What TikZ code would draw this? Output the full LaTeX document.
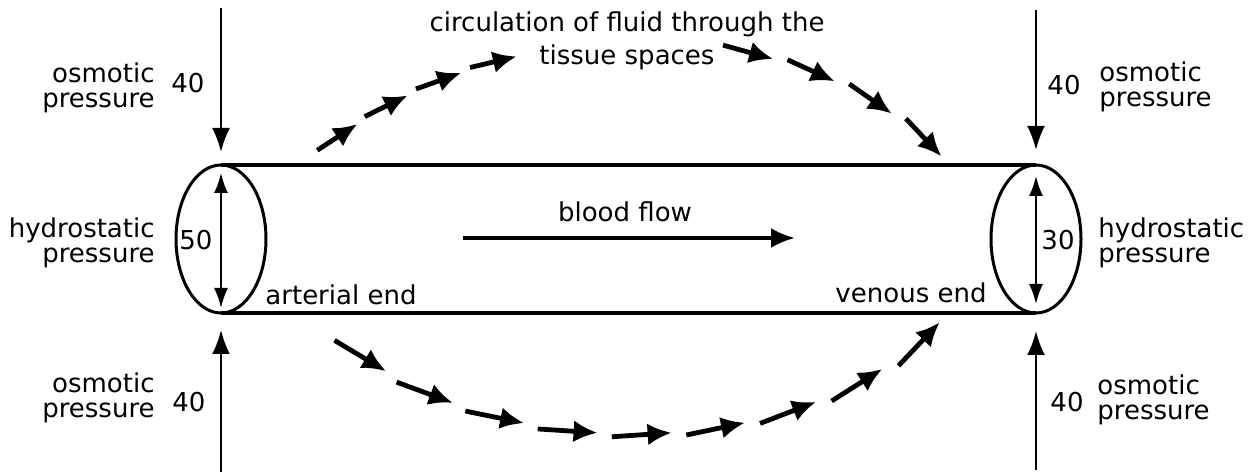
\documentclass[tikz,border=0pt]{standalone}
\usepackage{fontspec}
\setmainfont{DejaVu Sans}
\usepackage{tikz}
\usetikzlibrary{arrows.meta, shapes.geometric, decorations.markings}

% one dash of the tissue-fluid circulation
\newcommand{\fluiddash}[1]{\draw[line width=2.4pt, -{Latex[length=12pt,width=11pt]}] (-#1,0) -- (0,0);}

\tikzset{
  lbl/.style={inner sep=0pt, font=\fontsize{13}{12.5}\selectfont},
  vessel/.style={draw, ellipse, line width=1.5pt, minimum width=45pt, minimum height=74pt, inner sep=0pt, outer sep=0pt},
  wall/.style={line width=2pt},
  press/.style={line width=1.2pt, -{Latex[length=12pt,width=9pt]}},
  hpress/.style={line width=1pt, {Latex[length=10pt,width=7pt]}-{Latex[length=10pt,width=7pt]}},
  flowarrow/.style={line width=1.8pt, -{Latex[length=12pt,width=10pt]}},
  topflow/.style={decorate, decoration={markings,
    mark=between positions 0.072 and 0.33 step 0.0853 with {\fluiddash{24pt}},
    mark=between positions 0.709 and 1 step 0.0966 with {\fluiddash{26pt}}}},
  bottomflow/.style={decorate, decoration={markings,
    mark=between positions 0.104 and 1 step 0.1119 with {\fluiddash{30pt}}}}
}

\begin{document}
\begin{tikzpicture}[x=0.5pt, y=-0.5pt]
\useasboundingbox (0,0) rectangle (1254,474);

% the capillary
\node[vessel] (art) at (221,239) {};
\node[vessel] (ven) at (1036,239) {};
\draw[wall] (art.north) -- (ven.north);
\draw[wall] (art.south) -- (ven.south);

% pressures at the arterial end
\coordinate (artup) at (221,8);
\coordinate (artdown) at (221,472);
\draw[press, shorten >=6.5pt] (artup) -- (art.north);
\draw[press, shorten >=8.5pt] (artdown) -- (art.south);
\draw[hpress, shorten <=4pt, shorten >=2.5pt] (art.north) -- (art.south);

% pressures at the venous end
\coordinate (venup) at (1036,10);
\coordinate (vendown) at (1036,470);
\draw[press, shorten >=7.5pt] (venup) -- (ven.north);
\draw[press, shorten >=9pt] (vendown) -- (ven.south);
\draw[hpress, shorten <=5.5pt, shorten >=4.5pt] (ven.north) -- (ven.south);

% labels, left
\node[lbl, anchor=east, align=right] (osmla) at (155,88) {osmotic\\pressure};
\node[lbl] (osmlaval) at (188,83) {40};
\node[lbl, anchor=east, align=right] (hydl) at (155,243) {hydrostatic\\pressure};
\node[lbl] (hydlval) at (196,240) {50};
\node[lbl, anchor=east, align=right] (osmlb) at (155,398) {osmotic\\pressure};
\node[lbl] (osmlbval) at (189,402) {40};
\node[lbl] (arterial) at (341,295) {arterial end};

% labels, right
\node[lbl] (osmravl) at (1064,85) {40};
\node[lbl, anchor=west, align=left] (osmra) at (1099,87) {osmotic\\pressure};
\node[lbl] (hydrval) at (1058,240) {30};
\node[lbl, anchor=west, align=left] (hydr) at (1098,243) {hydrostatic\\pressure};
\node[lbl] (osmrbval) at (1067,402) {40};
\node[lbl, anchor=west, align=left] (osmrb) at (1097,400) {osmotic\\pressure};
\node[lbl] (venous) at (911,293) {venous end};

% blood flow
\node[lbl] (blood) at (625,212) {blood flow};
\coordinate (bfa) at (463,238);
\coordinate (bfb) at (795,238);
\draw[flowarrow] (bfa) -- (bfb);

% circulation through the tissue spaces
\node[lbl, align=center, font=\fontsize{13}{16.5}\selectfont] (circ) at (627,41) {circulation of fluid through the\\tissue spaces};
\coordinate (tsa) at (318,153);
\coordinate (tsb) at (942,157);
\coordinate (bsa) at (331,330);
\coordinate (bsb) at (940,322);
\path[topflow] (tsa) .. controls (499,4) and (799,4) .. (tsb);
\path[bottomflow] (bsa) .. controls (480,470) and (800,470) .. (bsb);
\end{tikzpicture}
\end{document}
